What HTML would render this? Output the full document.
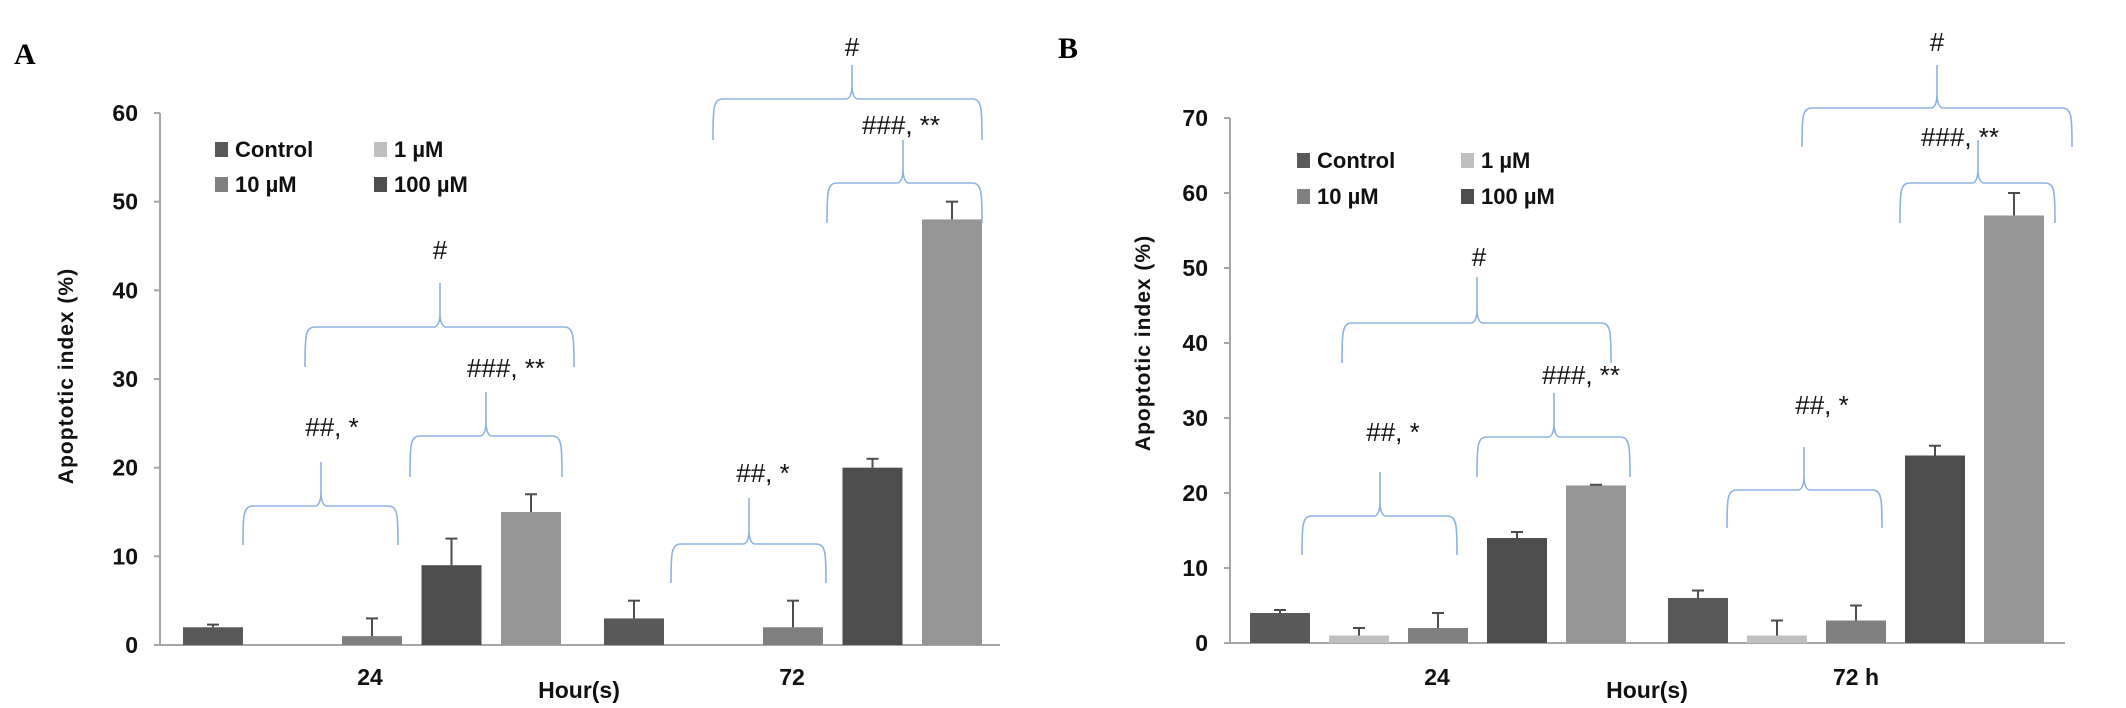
<!DOCTYPE html>
<html><head><meta charset="utf-8"><style>
html,body{margin:0;padding:0;background:#fff;}
svg{display:block;}
text{font-family:"Liberation Sans Narrow","Liberation Sans",sans-serif;}
</style></head><body>
<svg id="chart" width="2126" height="708" viewBox="0 0 2126 708" xmlns="http://www.w3.org/2000/svg">
<text x="14" y="64" font-family="Liberation Serif" font-weight="bold" font-size="30" style="font-family:'Liberation Serif',serif">A</text>
<text x="1058" y="58" font-weight="bold" font-size="30" style="font-family:'Liberation Serif',serif">B</text>
</svg>
<script>
const slotLabels = ["Control","1 µM","10 µM","100 µM","extra"];
const seriesColors = ["#595959","#bfbfbf","#808080","#4d4d4d","#969696"];
const groupLabelsA = ["24","72"];
const groupLabelsB = ["24","72 h"];
const valuesA24 = [2,0,1,9,15];
const errTopA24 = [2.3,null,3,12,17];
const valuesA72 = [3,0,2,20,48];
const errTopA72 = [5,null,5,21,50];
const valuesB24 = [4,1,2,14,21];
const errTopB24 = [4.4,2,4,14.8,21.1];
const valuesB72 = [6,1,3,25,57];
const errTopB72 = [7,3,5,26.3,60];
const ticksA = [0,10,20,30,40,50,60];
const ticksB = [0,10,20,30,40,50,60,70];
const legendLabels = ["Control","1 µM","10 µM","100 µM"];

const svg = document.getElementById('chart');
const NS = "http://www.w3.org/2000/svg";
function mk(tag, attrs, txt){const e=document.createElementNS(NS,tag);for(const k in attrs)e.setAttribute(k,attrs[k]);if(txt!==undefined)e.textContent=txt;svg.appendChild(e);return e;}

function panel(cfg){
  const yScale = v => cfg.y0 - (v/cfg.max)*(cfg.y0-cfg.yTop);
  // axis
  let a = mk('line',{x1:cfg.ax,y1:cfg.yTop,x2:cfg.ax,y2:cfg.y0,stroke:'#a6a6a6','stroke-width':2});
  
  
  let b = mk('line',{x1:cfg.ax,y1:cfg.y0,x2:cfg.xEnd,y2:cfg.y0,stroke:'#a6a6a6','stroke-width':2});
  
  
  cfg.ticks.forEach(t=>{
    const y=yScale(t);
    const tl=mk('line',{x1:cfg.ax-6,y1:y,x2:cfg.ax,y2:y,stroke:'#a6a6a6','stroke-width':2});
    
    
    const tx=mk('text',{x:cfg.ax-22,y:y+8,'text-anchor':'end','font-size':23,'font-weight':'bold',fill:'#111'},String(t));
    
    
  });
  const yt=mk('text',{x:0,y:0,'text-anchor':'middle','font-size':21,'font-weight':'bold',fill:'#111',transform:`translate(${cfg.titleX},${cfg.titleY}) rotate(-90)`,style:"font-family:'Liberation Sans',sans-serif;letter-spacing:1px"},'Apoptotic index (%)');
  
  
  // bars
  cfg.groups.forEach((g,gi)=>{
    g.vals.forEach((v,i)=>{
      const x=g.x0+i*cfg.step;
      if(v>0){
        const r=mk('rect',{x:x,y:yScale(v),width:cfg.bw,height:cfg.y0-yScale(v),fill:seriesColors[i]});
        
        
      }
      if(g.err[i]!=null){
        const cx=x+cfg.bw/2, yt2=yScale(g.err[i]);
        const e1=mk('line',{x1:cx,y1:yScale(v),x2:cx,y2:yt2,stroke:'#4d4d4d','stroke-width':2});
        
        
        const e2=mk('line',{x1:cx-6,y1:yt2,x2:cx+6,y2:yt2,stroke:'#4d4d4d','stroke-width':2});
        
        
      }
    });
    const gl=mk('text',{x:g.labelX,y:685,'text-anchor':'middle','font-size':23,'font-weight':'bold',fill:'#111'},g.label);
    
    
  });
  const xt=mk('text',{x:cfg.hourX,y:698,'text-anchor':'middle','font-size':23,'font-weight':'bold',fill:'#111'},'Hour(s)');
  
  
  // legend
  legendLabels.forEach((l,i)=>{
    const col=i%2,row=Math.floor(i/2);
    const lx=cfg.legX+col*cfg.legDX, ly=cfg.legY+row*cfg.legDY;
    const sq=mk('rect',{x:lx,y:ly-7,width:13,height:15,fill:[seriesColors[0],seriesColors[1],seriesColors[2],seriesColors[3]][i]});
    
    
    const t=mk('text',{x:lx+20,y:ly+8,'font-size':22,'font-weight':'bold',fill:'#111'},l);
    
    
  });
  // braces
  cfg.braces.forEach(br=>{
    const [x1,x2,yh,ye,yp,cx,label,tx,ty]=br;
    const d=`M${x1},${ye} C${x1},${yh+10} ${x1},${yh} ${x1+10},${yh} L${cx-6},${yh} C${cx-2},${yh} ${cx},${yh-6} ${cx},${yh-14} L${cx},${yp} M${cx},${yh-14} C${cx},${yh-6} ${cx+2},${yh} ${cx+6},${yh} L${x2-10},${yh} C${x2},${yh} ${x2},${yh+10} ${x2},${ye}`;
    const p=mk('path',{d:d,fill:'none',stroke:'#8db3e2','stroke-width':1.6});
    
    
    const t=mk('text',{x:tx,y:ty+9,'text-anchor':'middle','font-size':26,fill:'#111'},label);
    
    
  });
}

panel({p:'panel-a',ax:160,yTop:113,y0:645,max:60,xEnd:1000,ticks:ticksA,titleX:73,titleY:376,
  step:79.5,bw:60,
  groups:[{x0:183,vals:valuesA24,err:errTopA24,label:groupLabelsA[0],labelX:370},
          {x0:604,vals:valuesA72,err:errTopA72,label:groupLabelsA[1],labelX:792}],
  hourX:579,legX:215,legY:149,legDX:159,legDY:35,
  braces:[[243,398,506,545,462,321,'##, *',332,427],
          [410,562,436,477,392,486,'###, **',506,368],
          [305,574,327,367,283,440,'#',440,250],
          [671,826,544,583,498,749,'##, *',763,473],
          [827,982,183,223,140,903,'###, **',901,125],
          [713,982,99,140,65,852,'#',852,47]]});

panel({p:'panel-b',ax:1230,yTop:118,y0:643,max:70,xEnd:2065,ticks:ticksB,titleX:1150,titleY:343,
  step:79,bw:60,
  groups:[{x0:1250,vals:valuesB24,err:errTopB24,label:groupLabelsB[0],labelX:1437},
          {x0:1668,vals:valuesB72,err:errTopB72,label:groupLabelsB[1],labelX:1856}],
  hourX:1647,legX:1297,legY:160,legDX:164,legDY:36,
  braces:[[1302,1457,516,555,472,1380,'##, *',1393,432],
          [1477,1630,437,477,393,1554,'###, **',1581,375],
          [1342,1611,323,363,277,1477,'#',1479,257],
          [1727,1882,490,528,447,1804,'##, *',1822,405],
          [1900,2055,183,223,140,1978,'###, **',1960,137],
          [1802,2072,108,147,65,1937,'#',1937,42]]});
</script>
</body></html>
